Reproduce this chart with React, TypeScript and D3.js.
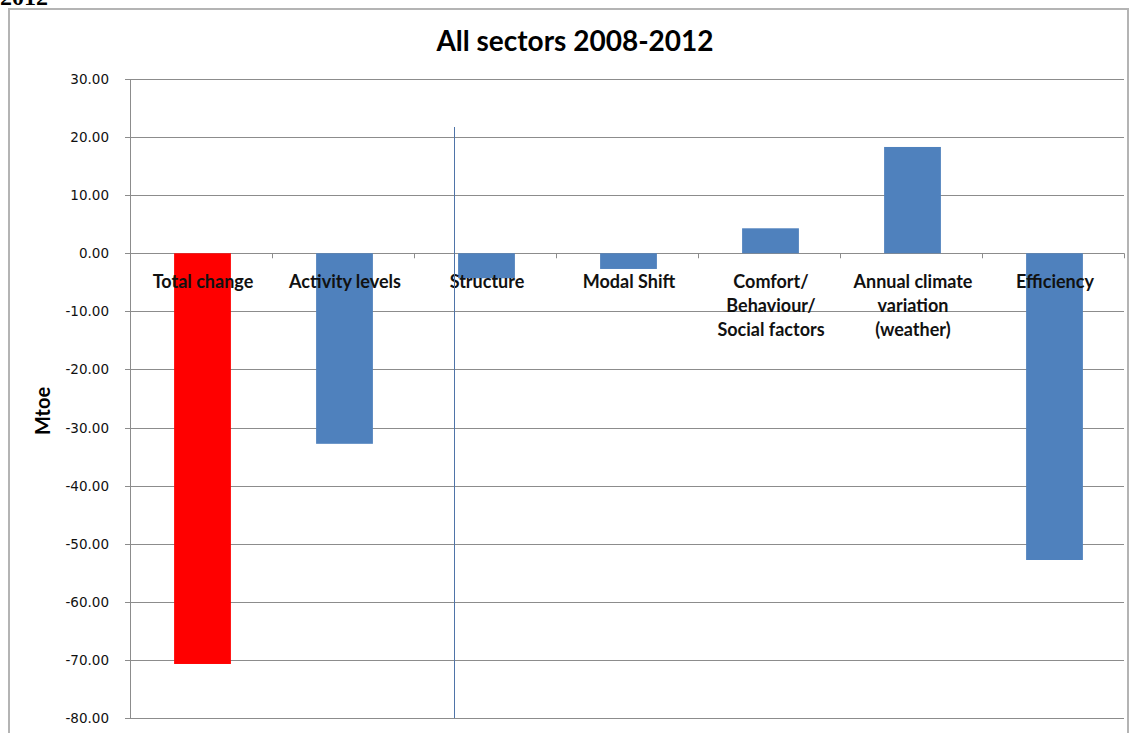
import React from "react";
import * as d3 from "d3";

const categories: string[][] = [
  ["Total change"],
  ["Activity levels"],
  ["Structure"],
  ["Modal Shift"],
  ["Comfort/", "Behaviour/", "Social factors"],
  ["Annual climate", "variation", "(weather)"],
  ["Efficiency"],
];
const values: number[] = [-70.7, -32.8, -4.3, -2.7, 4.3, 18.3, -52.8];
const barColors: string[] = ["#ff0000", "#4f81bd", "#4f81bd", "#4f81bd", "#4f81bd", "#4f81bd", "#4f81bd"];
const yTicks: number[] = [30, 20, 10, 0, -10, -20, -30, -40, -50, -60, -70, -80];
const title = "All sectors 2008-2012";
const yLabel = "Mtoe";

export default function App() {
  const W = 1131, H = 733;
  const left = 130, right = 1124, top = 79, bottom = 718;
  const x = d3.scaleBand<number>().domain(d3.range(categories.length)).range([left, right]).padding(0);
  const y = d3.scaleLinear().domain([-80, 30]).range([bottom, top]);
  const bw = x.bandwidth() * 0.4;
  const font = "Lato, 'Open Sans', sans-serif";
  return (
    <svg width={W} height={H} style={{ position: "absolute", left: 0, top: 0, background: "#fff" }}>
      <rect x={0} y={0} width={W} height={H} fill="#fff" />
      <text x={0} y={5} fontFamily="'Liberation Serif', serif" fontWeight="bold" fontSize={24} fill="#000">2012</text>
      <rect x={9} y={9} width={1119} height={H} fill="#fff" stroke="#b4b4b4" strokeWidth={2} />
      <text x={575} y={51} textAnchor="middle" fontFamily={font} fontWeight="bold" fontSize={28} fill="#000">{title}</text>
      {yTicks.map((t) => (
        <g key={t}>
          <line x1={left - 5} x2={right} y1={Math.round(y(t)) + 0.5} y2={Math.round(y(t)) + 0.5} stroke="#8c8c8c" strokeWidth={1} />
          <text x={109} y={y(t) + 5} textAnchor="end" fontFamily="'DejaVu Sans', sans-serif" fontSize={13.5} fill="#111">{t.toFixed(2)}</text>
        </g>
      ))}
      <line x1={left + 0.5} x2={left + 0.5} y1={top} y2={bottom} stroke="#8c8c8c" strokeWidth={1} />
      {d3.range(categories.length + 1).map((i) => {
        const xx = i < categories.length ? (x(i) as number) : right;
        return <line key={"tk" + i} x1={xx + 0.5} x2={xx + 0.5} y1={y(0)} y2={y(0) + 5} stroke="#8c8c8c" strokeWidth={1} />;
      })}
      {values.map((v, i) => {
        const cx = (x(i) as number) + x.bandwidth() / 2 + 1.5;
        return (
          <rect key={"b" + i} x={cx - bw / 2} width={bw} y={Math.min(y(v), y(0))} height={Math.abs(y(v) - y(0))} fill={barColors[i]} />
        );
      })}
      {categories.map((lines, i) => {
        const cx = (x(i) as number) + x.bandwidth() / 2 + 2;
        return (
          <text key={"c" + i} textAnchor="middle" fontFamily={font} fontWeight="bold" fontSize={18} fill="#111">
            {lines.map((l, j) => (
              <tspan key={j} x={cx} y={288 + j * 24}>{l}</tspan>
            ))}
          </text>
        );
      })}
      <line x1={454.5} x2={454.5} y1={127} y2={bottom} stroke="#4f74a8" strokeWidth={1} />
      <text transform={`translate(50,${411}) rotate(-90)`} textAnchor="middle" fontFamily={font} fontWeight="bold" fontSize={20} fill="#000">{yLabel}</text>
    </svg>
  );
}
